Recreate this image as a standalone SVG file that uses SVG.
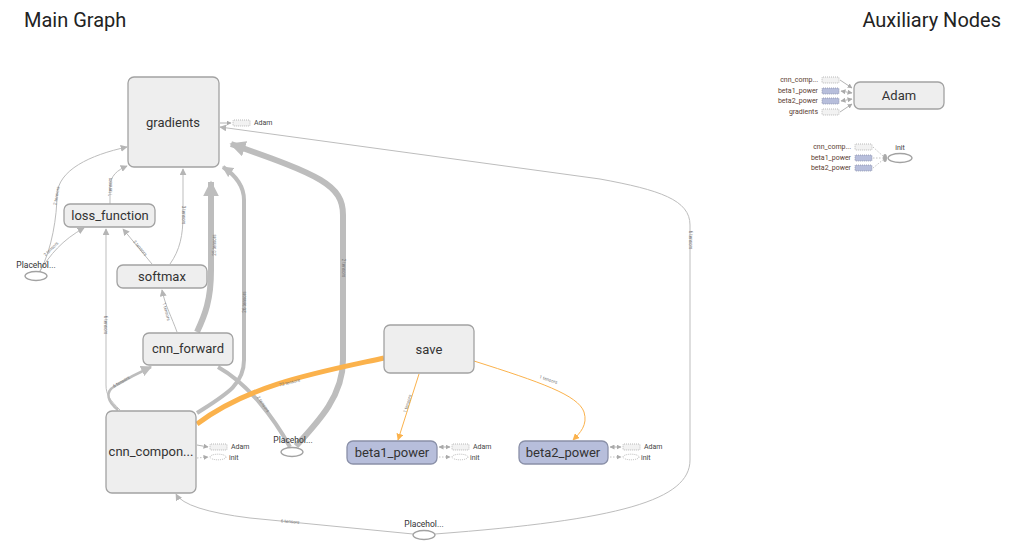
<svg xmlns="http://www.w3.org/2000/svg" width="1012" height="554" viewBox="0 0 1012 554">
<style>
text{font-family:Roboto,"Liberation Sans",sans-serif;fill:#333}
.title{font-size:20px;fill:#222}
.node rect.op{fill:#eeeeee;stroke:#a2a2a2;stroke-width:1.3}
.node rect.var{fill:#b7bedb;stroke:#8a90a8;stroke-width:1.3}
.nl{font-size:13px;text-anchor:middle;fill:#333}
.ph{fill:#fff;stroke:#a2a2a2;stroke-width:1.3}
.phl{font-size:8.5px;text-anchor:middle;fill:#333}
.e{fill:none;stroke:#bdbdbd}
.eo{fill:none;stroke:#fbb24c}
.el{font-size:4.5px;fill:#777;text-anchor:middle}
.stub{fill:#f2f2f2;stroke:#aaa;stroke-width:0.8;stroke-dasharray:1,1}
.stubv{fill:#b7bedb;stroke:#8a90a8;stroke-width:0.8;stroke-dasharray:1,1}
.stube{fill:#fff;stroke:#aaa;stroke-width:0.8;stroke-dasharray:1,1}
.sl{font-size:7px;fill:#444}
.sr{font-size:7px;fill:#5a3d30;text-anchor:end}
.sa{fill:none;stroke:#aaa;stroke-width:0.9}
.sd{fill:none;stroke:#bbb;stroke-width:0.9;stroke-dasharray:1.5,1.5}
</style>
<defs>
<marker id="a" viewBox="0 0 10 10" refX="9" refY="5" markerWidth="7" markerHeight="7" markerUnits="userSpaceOnUse" orient="auto"><path d="M0,0 L10,5 L0,10 z" fill="#b5b5b5"/></marker>
<marker id="am" viewBox="0 0 10 10" refX="9" refY="5" markerWidth="11" markerHeight="11" markerUnits="userSpaceOnUse" orient="auto"><path d="M0,0 L10,5 L0,10 z" fill="#bdbdbd"/></marker>
<marker id="al" viewBox="0 0 10 10" refX="9" refY="5" markerWidth="16" markerHeight="16" markerUnits="userSpaceOnUse" orient="auto"><path d="M0,0 L10,5 L0,10 z" fill="#bdbdbd"/></marker>
<marker id="ao" viewBox="0 0 10 10" refX="9" refY="5" markerWidth="7" markerHeight="7" markerUnits="userSpaceOnUse" orient="auto"><path d="M0,0 L10,5 L0,10 z" fill="#fbb24c"/></marker>
<marker id="as" viewBox="0 0 10 10" refX="9" refY="5" markerWidth="5" markerHeight="5" markerUnits="userSpaceOnUse" orient="auto"><path d="M0,0 L10,5 L0,10 z" fill="#aaa"/></marker>
<marker id="ass" viewBox="0 0 10 10" refX="1" refY="5" markerWidth="5" markerHeight="5" markerUnits="userSpaceOnUse" orient="auto"><path d="M10,0 L0,5 L10,10 z" fill="#aaa"/></marker>
</defs>
<rect width="1012" height="554" fill="#fff"/>
<text class="title" x="24" y="27">Main Graph</text>
<text class="title" x="1001" y="27" text-anchor="end">Auxiliary Nodes</text>

<g id="edges">
<path class="e" stroke-width="1" d="M40,271 C52,250 57,215 57,195 C58,170 90,155 127,147" marker-end="url(#a)"/>
<path class="e" stroke-width="1" d="M40,271 C50,255 62,240 84,228" marker-end="url(#a)"/>
<path class="e" stroke-width="1" d="M110,204 L110,188 C110,175 118,170 127,166" marker-end="url(#a)"/>
<path class="e" stroke-width="1" d="M170,264 C180,250 183,235 183,215 L183,169" marker-end="url(#a)"/>
<path class="e" stroke-width="1" d="M152,264 L123,229" marker-end="url(#a)"/>
<path class="e" stroke-width="1" d="M177,332 C172,318 165,305 162,290" marker-end="url(#a)"/>
<path class="e" stroke-width="6" d="M197,332 C205,315 211,300 211,270 L211,182" marker-end="url(#al)"/>
<path class="e" stroke-width="4" d="M197,413 C225,395 244,385 244,360 L244,200 C244,185 235,175 223,167" marker-end="url(#am)"/>
<path class="e" stroke-width="6" d="M296,446 C320,420 343,395 343,360 L343,215 C343,185 320,175 231,144" marker-end="url(#al)"/>
<path class="e" stroke-width="4" d="M218,367 C250,385 275,420 290,447"/>
<path class="e" stroke-width="2.5" d="M118,410 C108,402 104,392 115,386 C125,380 140,372 151,367" marker-end="url(#am)"/>
<path class="e" stroke-width="1" d="M120,410 C110,400 106,395 106,385 L106,229" marker-end="url(#a)"/>
<path class="eo" stroke-width="5" d="M384,358 C320,372 250,384 197,424"/>
<path class="eo" stroke-width="1" d="M419,374 L398,440" marker-end="url(#ao)"/>
<path class="eo" stroke-width="1" d="M474,361 C540,382 578,395 584,412 C588,425 580,433 573,440" marker-end="url(#ao)"/>
<path class="e" stroke-width="1" d="M413,534 L250,518 Q185,510 176,494" marker-end="url(#a)"/>
<path class="e" stroke-width="1" d="M435,534 C620,520 690,500 690,460 L690,225 C690,200 660,190 600,179 L220,127" marker-end="url(#a)"/>
<text class="el" transform="translate(58,196) rotate(-80)">2 tensors</text>
<text class="el" transform="translate(52,250) rotate(-45)">2 tensors</text>
<text class="el" transform="translate(112,187) rotate(-90)">1 tensors</text>
<text class="el" transform="translate(182,215) rotate(90)">3 tensors</text>
<text class="el" transform="translate(139,249) rotate(50)">2 tensors</text>
<text class="el" transform="translate(165,312) rotate(75)">1 tensors</text>
<text class="el" transform="translate(216,245) rotate(-90)">25 tensors</text>
<text class="el" transform="translate(246,302) rotate(-90)">26 tensors</text>
<text class="el" transform="translate(342,268) rotate(90)">2 tensors</text>
<text class="el" transform="translate(689,240) rotate(90)">6 tensors</text>
<text class="el" transform="translate(104,325) rotate(90)">6 tensors</text>
<text class="el" transform="translate(122,383) rotate(-30)">6 tensors</text>
<text class="el" transform="translate(290,384) rotate(-14)">73 tensors</text>
<text class="el" transform="translate(262,405) rotate(55)">2 tensors</text>
<text class="el" transform="translate(409,404) rotate(-73)">1 tensors</text>
<text class="el" transform="translate(548,381) rotate(18)">1 tensors</text>
<text class="el" transform="translate(290,523) rotate(5)">6 tensors</text>
</g>

<g id="gradients" class="node">
<rect class="op" x="128" y="77" width="91" height="90" rx="6"/>
<text class="nl" x="173" y="127">gradients</text>
<path class="sa" d="M220,123 L231,123" marker-end="url(#as)"/>
<rect class="stub" x="233" y="120" width="17" height="6" rx="1"/>
<text class="sl" x="254" y="125">Adam</text>
</g>
<g id="loss_function" class="node">
<rect class="op" x="64" y="204" width="91" height="23" rx="6"/>
<text class="nl" x="110" y="220">loss_function</text>
</g>
<g id="softmax" class="node">
<rect class="op" x="117" y="265" width="90" height="23" rx="6"/>
<text class="nl" x="162" y="281">softmax</text>
</g>
<g id="cnn_forward" class="node">
<rect class="op" x="143" y="333" width="90" height="32" rx="6"/>
<text class="nl" x="188" y="353">cnn_forward</text>
</g>
<g id="cnn_component" class="node">
<rect class="op" x="106" y="411" width="90" height="82" rx="6"/>
<text class="nl" x="151" y="456">cnn_compon...</text>
<path class="sa" d="M197,445 L208,447" marker-end="url(#as)"/>
<rect class="stub" x="210" y="444" width="17" height="6" rx="1"/>
<text class="sl" x="231" y="449">Adam</text>
<path class="sd" d="M197,458 L208,457" marker-end="url(#as)"/>
<ellipse class="stube" cx="218" cy="457" rx="8" ry="2.8"/>
<text class="sl" x="229" y="460">init</text>
</g>
<g id="save" class="node">
<rect class="op" x="384" y="325" width="90" height="48" rx="6"/>
<text class="nl" x="429" y="354">save</text>
</g>
<g id="beta1_power" class="node">
<rect class="var" x="347" y="441" width="90" height="23" rx="6"/>
<text class="nl" x="392" y="457">beta1_power</text>
<path class="sa" d="M439,447 L450,447" marker-start="url(#ass)" marker-end="url(#as)"/>
<rect class="stub" x="452" y="444" width="17" height="6" rx="1"/>
<text class="sl" x="473" y="449">Adam</text>
<path class="sd" d="M439,457 L450,457" marker-end="url(#as)"/>
<ellipse class="stube" cx="460" cy="457" rx="8" ry="2.8"/>
<text class="sl" x="470" y="460">init</text>
</g>
<g id="beta2_power" class="node">
<rect class="var" x="519" y="441" width="89" height="23" rx="6"/>
<text class="nl" x="563" y="457">beta2_power</text>
<path class="sa" d="M610,447 L621,447" marker-start="url(#ass)" marker-end="url(#as)"/>
<rect class="stub" x="623" y="444" width="17" height="6" rx="1"/>
<text class="sl" x="644" y="449">Adam</text>
<path class="sd" d="M610,457 L621,457" marker-end="url(#as)"/>
<ellipse class="stube" cx="631" cy="457" rx="8" ry="2.8"/>
<text class="sl" x="641" y="460">init</text>
</g>
<g id="placeholder_left" class="node">
<ellipse class="ph" cx="36" cy="276" rx="11" ry="4.5"/>
<text class="phl" x="36" y="268">Placehol...</text>
</g>
<g id="placeholder_mid" class="node">
<ellipse class="ph" cx="292" cy="452" rx="11" ry="4.5"/>
<text class="phl" x="293" y="443">Placehol...</text>
</g>
<g id="placeholder_bottom" class="node">
<ellipse class="ph" cx="424" cy="535" rx="11" ry="4.5"/>
<text class="phl" x="424" y="527">Placehol...</text>
</g>

<g id="aux_adam" class="node">
<rect class="op" x="854" y="82" width="90" height="27" rx="6"/>
<text class="nl" x="899" y="100">Adam</text>
<text class="sr" x="818" y="82">cnn_comp...</text>
<text class="sr" x="818" y="93">beta1_power</text>
<text class="sr" x="818" y="103">beta2_power</text>
<text class="sr" x="818" y="114">gradients</text>
<rect class="stub" x="822" y="77" width="17" height="6" rx="1"/>
<rect class="stubv" x="822" y="88" width="17" height="6" rx="1"/>
<rect class="stubv" x="822" y="98" width="17" height="6" rx="1"/>
<rect class="stub" x="822" y="109" width="17" height="6" rx="1"/>
<path class="sa" d="M840,80 L852,88" marker-end="url(#as)"/>
<path class="sa" d="M841,91 L852,93" marker-start="url(#ass)" marker-end="url(#as)"/>
<path class="sa" d="M841,101 L852,99" marker-start="url(#ass)" marker-end="url(#as)"/>
<path class="sa" d="M840,112 L852,104" marker-end="url(#as)"/>
</g>
<g id="aux_init" class="node">
<ellipse class="ph" cx="900" cy="158" rx="12" ry="4.5"/>
<text class="sl" x="900" y="150" text-anchor="middle" font-size="8.5">init</text>
<text class="sr" x="851" y="149">cnn_comp...</text>
<text class="sr" x="851" y="160">beta1_power</text>
<text class="sr" x="851" y="170">beta2_power</text>
<rect class="stub" x="855" y="144" width="17" height="6" rx="1"/>
<rect class="stubv" x="855" y="155" width="17" height="6" rx="1"/>
<rect class="stubv" x="855" y="165" width="17" height="6" rx="1"/>
<path class="sd" d="M873,147 L884,157"/>
<path class="sd" d="M873,158 L884,158"/>
<path class="sd" d="M873,168 L884,159"/>
<ellipse cx="885" cy="158" rx="2" ry="4" fill="#aaa"/>
</g>
</svg>
